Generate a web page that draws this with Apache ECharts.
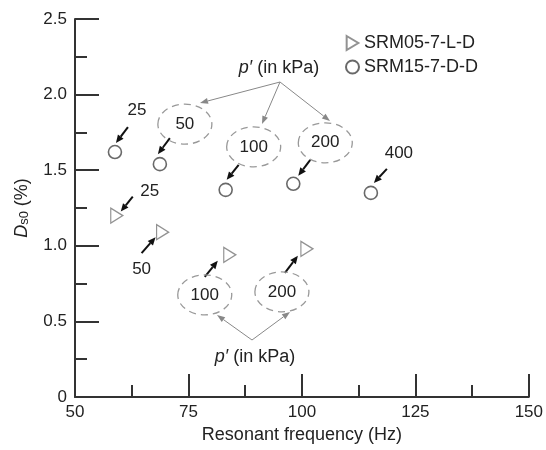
<html>
<head>
<meta charset="utf-8" />
<title>ECharts</title>
<script src="https://cdn.jsdelivr.net/npm/echarts@6/dist/echarts.min.js"></script>
<style>
  html, body { margin: 0; padding: 0; background: #fff; }
  #chart { width: 546px; height: 450px; }
</style>
</head>
<body>
<div id="chart"></div>
<script>
// p' (kPa), resonant frequency (Hz) and Ds0 (%)
const srm05Press = [25, 50, 100, 200];
const srm05Freq = [59.2, 69.3, 84.1, 101.1];
const srm05Ds0 = [1.20, 1.09, 0.94, 0.98];

const srm15Press = [25, 50, 100, 200, 400];
const srm15Freq = [58.8, 68.7, 83.2, 98.1, 115.2];
const srm15Ds0 = [1.62, 1.54, 1.37, 1.41, 1.35];

const xTicks = [50, 75, 100, 125, 150];
const yTicks = [0, 0.5, 1.0, 1.5, 2.0, 2.5];

const FONT = 'Liberation Sans, Arial, sans-serif';
const triPath = 'path://M0,0 L10,6 L0,12 Z';

let chart = echarts.init(document.getElementById('chart'));

chart.setOption({
    animation: false,
    grid: { left: 75, right: 16, top: 19, bottom: 53 },
    legend: {
        orient: 'vertical',
        left: 340,
        top: 29,
        itemWidth: 13,
        itemHeight: 14,
        itemGap: 6,
        textStyle: { fontSize: 18, color: '#222', fontFamily: FONT },
        data: ['SRM05-7-L-D', 'SRM15-7-D-D']
    },
    xAxis: {
        type: 'value',
        min: xTicks[0],
        max: xTicks[xTicks.length - 1],
        interval: xTicks[1] - xTicks[0],
        name: 'Resonant frequency (Hz)',
        nameLocation: 'middle',
        nameGap: 29,
        nameTextStyle: { fontSize: 18, color: '#222', fontFamily: FONT },
        axisLine: { lineStyle: { color: '#333', width: 2 } },
        axisTick: { inside: true, length: 23, lineStyle: { color: '#333', width: 2 } },
        minorTick: { show: true, splitNumber: 2, length: 12, lineStyle: { color: '#333', width: 2 } },
        axisLabel: { fontSize: 17, color: '#222', fontFamily: FONT, margin: 7 },
        splitLine: { show: false }
    },
    yAxis: {
        type: 'value',
        min: yTicks[0],
        max: yTicks[yTicks.length - 1],
        interval: yTicks[1] - yTicks[0],
        name: '{d|D}{s|s0} (%)',
        nameLocation: 'middle',
        nameGap: 44,
        nameRotate: 90,
        nameTextStyle: {
            fontSize: 18, color: '#222', fontFamily: FONT,
            rich: {
                d: { fontSize: 18, fontStyle: 'italic', color: '#222', fontFamily: FONT },
                s: { fontSize: 13, color: '#222', fontFamily: FONT, padding: [5, 0, 0, 0] }
            }
        },
        axisLine: { show: true, lineStyle: { color: '#333', width: 2 } },
        axisTick: { show: true, inside: true, length: 24, lineStyle: { color: '#333', width: 2 } },
        minorTick: { show: true, splitNumber: 2, length: 12, lineStyle: { color: '#333', width: 2 } },
        axisLabel: {
            fontSize: 17, color: '#222', fontFamily: FONT, margin: 8,
            formatter: v => v === 0 ? '0' : v.toFixed(1)
        },
        splitLine: { show: false }
    },
    series: [
        {
            name: 'SRM05-7-L-D',
            type: 'scatter',
            symbol: triPath,
            symbolSize: [12, 15],
            itemStyle: { color: 'rgba(0,0,0,0)', borderColor: '#777', borderWidth: 1.3 },
            data: srm05Freq.map((f, i) => [f, srm05Ds0[i], srm05Press[i]])
        },
        {
            name: 'SRM15-7-D-D',
            type: 'scatter',
            symbol: 'circle',
            symbolSize: 13,
            itemStyle: { color: 'rgba(0,0,0,0)', borderColor: '#444', borderWidth: 1.6 },
            data: srm15Freq.map((f, i) => [f, srm15Ds0[i], srm15Press[i]])
        }
    ]
});

// annotation offsets (px) relative to each point: arrow from/to, label centre, dashed ring
const srm05Notes = [
    { arrow: [16, -19, 4, -4], label: [33, -24] },
    { arrow: [-21, 21, -7, 5], label: [-21, 37] },
    { arrow: [-25, 22, -12, 6], label: [-25, 40], ring: true },
    { arrow: [-22, 24, -9, 7], label: [-25, 43], ring: true }
];
const srm15Notes = [
    { arrow: [13, -25, 1, -9], label: [22, -42] },
    { arrow: [10, -26, -2, -10], label: [25, -40], ring: true },
    { arrow: [13, -25, 1, -10], label: [28, -43], ring: true },
    { arrow: [17, -24, 5, -8], label: [32, -41], ring: true },
    { arrow: [16, -24, 3, -10], label: [28, -40] }
];

function arrow(x1, y1, x2, y2, color, lw, hl, hw) {
    const dx = x2 - x1, dy = y2 - y1, len = Math.hypot(dx, dy);
    const ux = dx / len, uy = dy / len;
    const bx = x2 - ux * hl, by = y2 - uy * hl;
    return [
        { type: 'line', silent: true, shape: { x1: x1, y1: y1, x2: bx, y2: by }, style: { stroke: color, lineWidth: lw } },
        { type: 'polygon', silent: true, shape: { points: [[x2, y2], [bx - uy * hw / 2, by + ux * hw / 2], [bx + uy * hw / 2, by - ux * hw / 2]] }, style: { fill: color } }
    ];
}

function text(str, x, y, size) {
    return {
        type: 'text', silent: true,
        style: { text: str, x: x, y: y, align: 'center', verticalAlign: 'middle', fontSize: size, fontFamily: FONT, fill: '#222' }
    };
}

function pText(x, y) {
    return {
        type: 'text', silent: true,
        style: {
            text: '{i|p\u2032} (in kPa)', x: x, y: y, align: 'center', verticalAlign: 'middle',
            fontSize: 18, fontFamily: FONT, fill: '#222',
            rich: { i: { fontStyle: 'italic', fontSize: 18, fontFamily: FONT, fill: '#222' } }
        }
    };
}

let elements = [];
function addNotes(freq, ds0, press, notes) {
    freq.forEach((f, i) => {
        const p = chart.convertToPixel({ gridIndex: 0 }, [f, ds0[i]]);
        const n = notes[i];
        elements.push(...arrow(p[0] + n.arrow[0], p[1] + n.arrow[1], p[0] + n.arrow[2], p[1] + n.arrow[3], '#111', 2, 8, 7));
        const lx = p[0] + n.label[0], ly = p[1] + n.label[1];
        if (n.ring) {
            elements.push({
                type: 'ellipse', silent: true,
                shape: { cx: lx, cy: ly, rx: 27, ry: 20 },
                style: { fill: 'none', stroke: '#999', lineWidth: 1.3, lineDash: [7, 5] }
            });
        }
        elements.push(text(String(press[i]), lx, ly, 17));
    });
}
addNotes(srm05Freq, srm05Ds0, srm05Press, srm05Notes);
addNotes(srm15Freq, srm15Ds0, srm15Press, srm15Notes);

// p' callouts
elements.push(pText(279, 68));
[[200, 103], [262, 124], [330, 121]].forEach(e => elements.push(...arrow(280, 82, e[0], e[1], '#888', 1, 8, 6)));
elements.push(pText(255, 357));
[[217, 315], [290, 312]].forEach(e => elements.push(...arrow(252, 340, e[0], e[1], '#888', 1, 8, 6)));

chart.setOption({ graphic: { elements: elements } });
</script>
</body>
</html>
